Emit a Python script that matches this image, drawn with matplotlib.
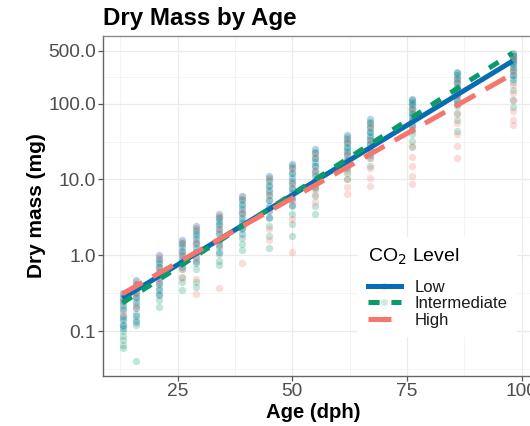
import matplotlib
matplotlib.use("Agg")
import matplotlib.pyplot as plt
from matplotlib.lines import Line2D
from matplotlib.ticker import FixedLocator, NullFormatter
import numpy as np

plt.rcParams['font.family'] = ['Liberation Sans', 'DejaVu Sans']
plt.rcParams['lines.scale_dashes'] = False

# ---------------- data ----------------
ages = [13, 16, 21, 26, 29, 34, 39, 45, 50, 55, 62, 67, 76, 86, 98]

low_mass = [
    [0.32, 0.28, 0.25, 0.22, 0.19, 0.16, 0.14, 0.12, 0.11],
    [0.47, 0.42, 0.37, 0.32, 0.28, 0.24, 0.2, 0.16, 0.13],
    [1.0, 0.9, 0.8, 0.7, 0.6, 0.5, 0.42, 0.35, 0.3],
    [1.6, 1.45, 1.3, 1.15, 1.0, 0.9, 0.8, 0.7],
    [2.4, 2.1, 1.9, 1.65, 1.45, 1.25, 1.1, 0.95, 0.8],
    [3.5, 3.1, 2.8, 2.5, 2.2, 1.9, 1.6, 1.35, 1.1],
    [6.0, 5.3, 4.7, 4.1, 3.6, 3.1, 2.7, 2.3, 1.9],
    [11.0, 9.5, 8.3, 7.2, 6.2, 5.3, 4.5, 3.8, 3.1],
    [16, 14, 12, 10.5, 9, 7.8, 6.6, 5.5, 4.6],
    [25, 22, 19, 17, 15, 13, 11, 9.5, 8],
    [38, 34, 30, 27, 24, 21, 18, 16, 14],
    [62, 55, 48, 42, 37, 33, 29, 25, 21],
    [116, 105, 95, 85, 76, 68, 60, 52, 45],
    [262, 235, 210, 185, 165, 145, 128, 112, 98],
    [450, 420, 390, 360, 330, 300, 270, 240, 210],
]

int_mass = [
    [0.26, 0.2, 0.15, 0.12, 0.1, 0.085, 0.075, 0.065, 0.06],
    [0.4, 0.33, 0.27, 0.22, 0.17, 0.14, 0.12, 0.04],
    [0.85, 0.7, 0.55, 0.45, 0.37, 0.31, 0.26, 0.21],
    [1.4, 1.1, 0.85, 0.65, 0.52, 0.45, 0.35],
    [2.2, 1.8, 1.4, 1.1, 0.85, 0.65, 0.45, 0.38],
    [3.2, 2.6, 2.0, 1.6, 1.3, 1.05, 0.85, 0.74],
    [5.5, 4.4, 3.5, 2.8, 2.2, 1.7, 1.4, 1.16],
    [10.5, 8.5, 6.8, 5.4, 4.2, 3.2, 2.4, 1.8, 1.25],
    [15, 12, 9.5, 7.5, 5.8, 4.5, 3.5, 2.6, 1.8],
    [23, 19, 15, 12, 9.5, 7.5, 6, 4.5, 3.5],
    [36, 31, 26, 22, 18, 15, 12, 10],
    [58, 50, 42, 35, 29, 24, 19, 15],
    [112, 98, 85, 72, 60, 50, 40, 32, 27],
    [255, 220, 190, 160, 135, 112, 92, 75, 60, 43],
    [470, 430, 390, 340, 290, 240, 190, 150, 110, 91],
]

high_mass = [
    [0.3, 0.24, 0.17],
    [0.45, 0.3, 0.21],
    [0.95, 0.65, 0.45],
    [1.5, 1.0, 0.65, 0.5],
    [2.3, 1.5, 0.9, 0.49, 0.31],
    [3.3, 2.2, 1.4, 0.37],
    [5.8, 3.8, 2.4, 0.79],
    [10.0, 6.3, 3.9, 2.2, 1.6],
    [14, 8.8, 5.2, 3, 1.1],
    [21, 13, 8, 6.5, 5],
    [32, 21, 13, 10, 8, 6.5],
    [50, 32, 19, 14, 10.5, 8.2],
    [85, 50, 28, 20, 15, 11, 8.7],
    [200, 125, 72, 55, 40, 28, 19],
    [400, 270, 175, 140, 110, 80, 60, 53],
]

fit_ages = [13, 98]
low_fit = [0.27, 364]
int_fit = [0.235, 465]
high_fit = [0.31, 246]

groups = ['Low', 'Intermediate', 'High']
colors = ['#0A6CB0', '#0A9A6C', '#F4766C']

y_ticks = [0.1, 1.0, 10.0, 100.0, 500.0]
y_ticklabels = ['0.1', '1.0', '10.0', '100.0', '500.0']
x_ticks = [25, 50, 75, 100]

# ---------------- figure ----------------
W, H = 530, 426
fig = plt.figure(figsize=(W / 100, H / 100), dpi=100)
fig.patch.set_facecolor('white')
L, R, T, B = 103, 532, 36, 376
ax = fig.add_axes([L / W, 1 - B / H, (R - L) / W, (B - T) / H])

ax.set_yscale('log')
ax.set_xlim(8.75, 102.25)
ax.set_ylim(0.0255, 780)

all_mass = [low_mass, int_mass, high_mass]
alphas = [0.3, 0.25, 0.25]
for masses, col, al in zip(all_mass, colors, alphas):
    xs, ys = [], []
    for a, vals in zip(ages, masses):
        xs.extend([a] * len(vals))
        ys.extend(vals)
    ax.scatter(xs, ys, s=28, color=col, alpha=al, linewidths=0, zorder=3)

line_styles = [
    dict(linestyle='-'),
    dict(dashes=(8, 8.5)),
    dict(dashes=(16.5, 8.5)),
]
fits = [low_fit, int_fit, high_fit]
for fit, col, st in zip(fits, colors, line_styles):
    ax.plot(fit_ages, fit, color=col, linewidth=3.6, solid_capstyle='butt',
            dash_capstyle='butt', zorder=4, **st)

# ticks & grid
ax.yaxis.set_major_locator(FixedLocator(y_ticks))
ax.set_yticklabels(y_ticklabels)
lo_minor = [10 ** -1.5, 10 ** -0.5, 10 ** 0.5, 10 ** 1.5, np.sqrt(100 * 500)]
ax.yaxis.set_minor_locator(FixedLocator(lo_minor))
ax.yaxis.set_minor_formatter(NullFormatter())
ax.xaxis.set_major_locator(FixedLocator(x_ticks))
ax.xaxis.set_minor_locator(FixedLocator([12.5, 37.5, 62.5, 87.5]))

ax.grid(True, which='major', color='#EBEBEB', linewidth=0.9, zorder=0)
ax.grid(True, which='minor', color='#F3F3F3', linewidth=0.6, zorder=0)
ax.set_axisbelow(True)

ax.tick_params(axis='both', which='major', labelsize=13.8, labelcolor='#4D4D4D',
               color='#555555', length=3.5, width=0.9, pad=1.5)
ax.tick_params(axis='both', which='minor', length=0)
for sp in ax.spines.values():
    sp.set_color('#8A8A8A')
    sp.set_linewidth(1.0)
ax.spines['left'].set_color('#666666')
ax.spines['bottom'].set_color('#666666')

# labels
fig.text(L / W, 1 - 25 / H, 'Dry Mass by Age', fontsize=17.4, fontweight='bold',
         ha='left', va='baseline', color='black')
fig.text(37 / W, 1 - 206 / H, 'Dry mass (mg)', fontsize=15, fontweight='bold',
         rotation=90, ha='center', va='center', color='black')
fig.text(313 / W, 1 - 418 / H, 'Age (dph)', fontsize=14.6, fontweight='bold',
         ha='center', va='baseline', color='black')

# legend
handles = []
for col, st in zip(colors, line_styles):
    ln = Line2D([], [], color=col, linewidth=3.6, **st)
    mk = Line2D([], [], color=col, marker='o', markersize=5, linestyle='none',
                alpha=0.2, markeredgewidth=0)
    handles.append((mk, ln))
leg = ax.legend(handles, groups, title='CO$_2$ Level', loc='upper left',
                bbox_to_anchor=((350 - L) / (R - L), (B - 229) / (B - T)),
                frameon=True, facecolor='white', edgecolor='none', framealpha=1,
                fontsize=12, title_fontsize=14, handlelength=2.0,
                handletextpad=0.85, labelspacing=0.08, borderpad=0.55,
                alignment='left', fancybox=False)
for t in leg.get_texts():
    t.set_color('#1A1A1A')
leg._legend_box.sep = 9.5
leg.set_zorder(5)

fig.savefig('out.png', dpi=100)
